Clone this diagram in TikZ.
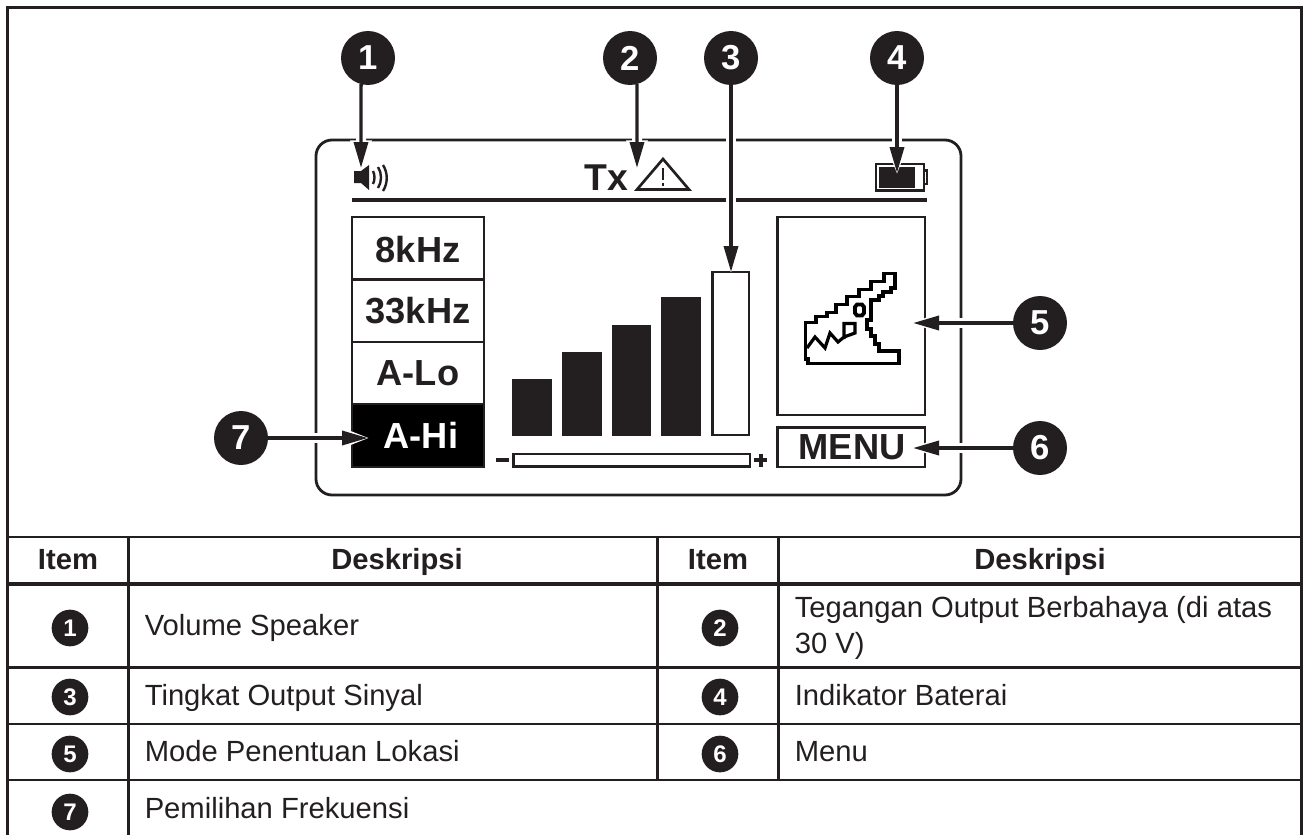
\documentclass[tikz,border=0pt]{standalone}
\usepackage{fontspec}
\setmainfont{Liberation Sans}
\usetikzlibrary{arrows.meta}
\definecolor{inkc}{HTML}{231F20}
\tikzset{
  ruleln/.style={draw=inkc, line width=2pt},
  lcdln/.style={draw=inkc, line width=2.1pt},
  clipln/.style={draw=black, line width=2.9pt, line join=miter},
  bigbadge/.style={circle, fill=inkc, text=white, minimum size=40.5pt, inner sep=0pt, outer sep=0pt, font=\fontsize{26}{26}\selectfont\bfseries},
  smallbadge/.style={circle, fill=inkc, text=white, minimum size=27.5pt, inner sep=0pt, outer sep=0pt, font=\fontsize{18}{18}\selectfont\bfseries},
  cellhead/.style={anchor=base, inner sep=0pt, text=inkc, font=\fontsize{21.9}{26}\selectfont\bfseries},
  celltext/.style={anchor=base west, inner sep=0pt, text=inkc, font=\fontsize{21.9}{26.6}\selectfont},
  lcdtext/.style={anchor=base, inner sep=0pt, text=inkc, font=\fontsize{27.2}{27}\selectfont\bfseries},
  callout/.style={line width=2.6pt, draw=inkc, -{Triangle[length=19.5pt,width=10.5pt]},
    preaction={draw=white, line width=7.5pt, shorten <=1.5pt, shorten >=-1.8pt, -{Triangle[length=22.5pt,width=14.5pt]}}},
}
\begin{document}
\begin{tikzpicture}[x=0.75pt, y=-0.75pt]
\useasboundingbox (0,0) rectangle (1303,835);

% Outer frame and table rules
\draw[draw=inkc, line width=2.3pt] (7.5,835) -- (7.5,7.5) -- (1301.5,7.5) -- (1301.5,835);
\draw[ruleln] (7.5,537) -- (1301.5,537);
\draw[draw=inkc, line width=3.4pt] (7.5,584) -- (1301.5,584);
\foreach \yy in {667.5,724,780}
  \draw[ruleln] (7.5,\yy) -- (1301.5,\yy);
\draw[ruleln] (128.5,537) -- (128.5,835);
\draw[ruleln] (657.5,537) -- (657.5,780);
\draw[ruleln] (778.5,537) -- (778.5,780);

% Table header
\node[cellhead] (headitema) at (68,569) {Item};
\node[cellhead] (headdesca) at (397,569) {Deskripsi};
\node[cellhead] (headitemb) at (718,569) {Item};
\node[cellhead] (headdescb) at (1040,569) {Deskripsi};

% Table rows
\node[smallbadge] (cella) at (70,628) {1};
\node[smallbadge] (cellb) at (720,628) {2};
\node[smallbadge] (cellc) at (70,697) {3};
\node[smallbadge] (celld) at (720,697) {4};
\node[smallbadge] (celle) at (70,754) {5};
\node[smallbadge] (cellf) at (720,754) {6};
\node[smallbadge] (cellg) at (70,812) {7};
\node[celltext] (desca) at (144.5,635) {Volume Speaker};
\node[celltext] (descb) at (794.5,617.5) {Tegangan Output Berbahaya (di atas};
\node[celltext] (descbb) at (794.5,653) {30 V)};
\node[celltext] (descc) at (144.5,705) {Tingkat Output Sinyal};
\node[celltext] (descd) at (794.5,705) {Indikator Baterai};
\node[celltext] (desce) at (144.5,761) {Mode Penentuan Lokasi};
\node[celltext] (descf) at (794.5,761) {Menu};
\node[celltext] (descg) at (144.5,818) {Pemilihan Frekuensi};

% LCD outline and top rule
\draw[lcdln, rounded corners=12pt] (316,140) rectangle (961,495);
\draw[draw=inkc, line width=3pt] (352,200) -- (927,200);

% Speaker icon
\fill[inkc] (354,171) -- (361,171) -- (369,165) -- (369,190) -- (361,183) -- (354,183) -- cycle;
\draw[draw=inkc, line width=1.8pt] (373,171) .. controls (375,175) and (375,180) .. (373,184);
\draw[draw=inkc, line width=1.8pt] (378,167) .. controls (382,173) and (382,182) .. (378,188);
\draw[draw=inkc, line width=1.8pt] (383,165) .. controls (388,173) and (388,183) .. (383,191);

% Tx and warning sign
\node[lcdtext, font=\fontsize{28}{28}\selectfont\bfseries] (txsign) at (606.5,190) {Tx};
\draw[draw=inkc, line width=2pt, line join=miter] (637,189.5) -- (663,159) -- (689,189.5) -- cycle;
\draw[draw=inkc, line width=2.2pt] (663,168) -- (663,180);
\draw[draw=inkc, line width=2.2pt] (663,182.5) -- (663,186);

% Battery icon
\draw[draw=inkc, line width=1.6pt] (876,164) rectangle (924,190.5);
\fill[inkc] (879,166.5) rectangle (915,188);
\draw[draw=inkc, line width=1.6pt] (924,170.5) -- (927,170.5) -- (927,184) -- (924,184);

% Frequency list
\fill[black] (352,404) rectangle (484,467);
\draw[lcdln] (352,217) rectangle (484,467);
\foreach \yy in {279.5,342,404}
  \draw[lcdln] (352,\yy) -- (484,\yy);
\node[lcdtext] (freqa) at (418,262) {8kHz};
\node[lcdtext] (freqb) at (418,323.5) {33kHz};
\node[lcdtext] (freqc) at (418,385) {A-Lo};
\node[lcdtext, text=white] (freqd) at (421,448.5) {A-Hi};

% Signal bars
\foreach \xl/\yt in {512/379,562/352,611.5/325,661/297}
  \fill[inkc] (\xl,\yt) rectangle ({\xl+39.5},436);
\draw[lcdln] (712.5,272) rectangle (749,435);

% Output slider
\draw[lcdln] (513.5,454) rectangle (750,466.5);
\fill[inkc] (496,458) rectangle (509,462);
\fill[inkc] (754,458) rectangle (767,462);
\fill[inkc] (758.5,453.5) rectangle (762.5,466.5);

% Clip panel and menu
\draw[lcdln] (777.5,217) rectangle (925,415);
\draw[lcdln] (777.5,427.5) rectangle (925,467);
\node[lcdtext] (menutext) at (852,459.5) {MENU};

% Clip icon (jaw outline, teeth, pivot)
\draw[clipln]
  (884,273.5) -- (895,273.5) -- (895,288) -- (891,288) -- (891,292) -- (883,292) -- (883,296)
  -- (879,296) -- (879,300) -- (871,300) -- (871,320) -- (867,320) -- (867,329) -- (871,329)
  -- (871,336) -- (875,336) -- (875,344) -- (879,344) -- (879,351) -- (899,351) -- (899,363.5)
  -- (808,363.5) -- (808,359) -- (805.5,359) -- (805.5,322.5) -- (816,322.5) -- (816,316.5)
  -- (827,316.5) -- (827,312.5) -- (836,312.5) -- (836,304.5) -- (847,304.5) -- (847,296.5)
  -- (859,296.5) -- (859,289.5) -- (871,289.5) -- (871,281.5) -- (884,281.5) -- cycle;
\draw[draw=black, line width=2.4pt, line join=miter]
  (807,348) -- (815,337) -- (825,348) -- (830,333) -- (838,342) -- (844,337)
  (844,339) -- (844,323.5) -- (855,323.5) -- (855,333) -- (844,337);
\draw[clipln]
  (855,307) -- (857,304.5) -- (862,304.5) -- (864,307) -- (864,313) -- (862,315.5) -- (857,315.5) -- (855,313) -- cycle;

% Callouts
\node[bigbadge] (badgea) at (368,58) {1};
\node[bigbadge] (badgeb) at (630,58) {2};
\node[bigbadge] (badgec) at (731,58) {3};
\node[bigbadge] (badged) at (897,58) {4};
\node[bigbadge] (badgee) at (1040,323) {5};
\node[bigbadge] (badgef) at (1040,448) {6};
\node[bigbadge] (badgeg) at (241,438) {7};
\coordinate (tipa) at (361,168);
\coordinate (tipb) at (637,168);
\coordinate (tipc) at (731,272);
\coordinate (tipd) at (897,173);
\coordinate (tipe) at (913,323);
\coordinate (tipf) at (913,448);
\coordinate (tipg) at (368,438);
\draw[callout] (badgea.-105) -- (tipa);
\draw[callout] (badgeb.-75) -- (tipb);
\draw[callout] (badgec) -- (tipc);
\draw[callout] (badged) -- (tipd);
\draw[callout] (badgee) -- (tipe);
\draw[callout] (badgef) -- (tipf);
\draw[callout] (badgeg) -- (tipg);
\end{tikzpicture}
\end{document}
